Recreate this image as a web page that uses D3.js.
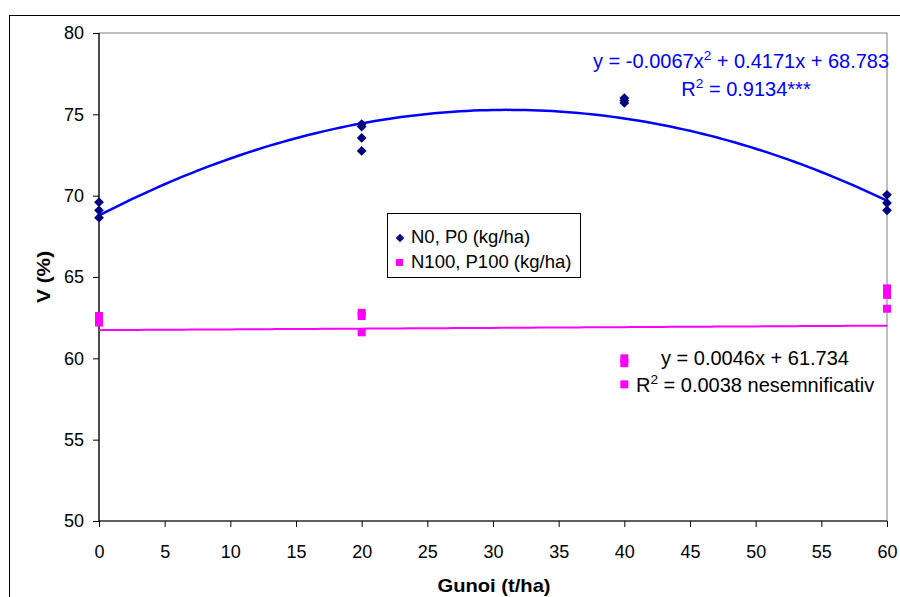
<!DOCTYPE html>
<html>
<head>
<meta charset="utf-8">
<script src="https://cdn.jsdelivr.net/npm/d3@7"></script>
<style>
  html, body { margin: 0; padding: 0; background: #fff; }
  svg { display: block; font-family: "Liberation Sans", Arial, sans-serif; }
</style>
</head>
<body>
<svg id="chart" width="900" height="597"></svg>
<script>
// ---- data ----
const xTicks = [0, 5, 10, 15, 20, 25, 30, 35, 40, 45, 50, 55, 60];
const yTicks = [50, 55, 60, 65, 70, 75, 80];
const seriesNames = ["N0, P0 (kg/ha)", "N100, P100 (kg/ha)"];
const s1x = [0, 0, 0, 20, 20, 20, 20, 40, 40, 40, 60, 60, 60];
const s1y = [69.6, 69.1, 68.65, 74.4, 74.25, 73.55, 72.75, 76.0, 75.85, 75.7, 70.05, 69.55, 69.1];
const s2x = [0, 0, 20, 20, 20, 40, 40, 40, 60, 60, 60];
const s2y = [62.6, 62.2, 62.8, 62.6, 61.6, 60.0, 59.7, 58.4, 64.3, 63.9, 63.05];
const quadCoef = [68.783, 0.4171, -0.0067];   // y = a + b x + c x^2
const linCoef = [61.734, 0.0046];             // y = a + b x

const svg = d3.select("#chart");
const x = d3.scaleLinear().domain([0, 60]).range([99, 887]);
const y = d3.scaleLinear().domain([50, 80]).range([521, 33]);

// outer frame
svg.append("rect").attr("x", 9.5).attr("y", 15.5).attr("width", 1000).attr("height", 1000)
  .attr("fill", "none").attr("stroke", "#000").attr("stroke-width", 1);

// plot area border (grey)
svg.append("rect").attr("x", x(0)).attr("y", y(80)).attr("width", x(60) - x(0)).attr("height", y(50) - y(80))
  .attr("fill", "none").attr("stroke", "#808080").attr("stroke-width", 1);

// axes
const yAxis = d3.axisLeft(y).tickValues(yTicks).tickSize(6).tickPadding(9);
const gy = svg.append("g").attr("transform", `translate(${x(0)},0)`).call(yAxis);
const xAxis = d3.axisBottom(x).tickValues(xTicks).tickSize(6).tickPadding(18);
const gx = svg.append("g").attr("transform", `translate(0,${y(50)})`).call(xAxis);
[gx, gy].forEach(g => {
  g.selectAll("path").attr("stroke", "#000").attr("stroke-width", 1.2);
  g.selectAll("line").attr("stroke", "#000");
  g.selectAll("text").attr("font-size", 18).attr("fill", "#000")
    .attr("font-family", "'Liberation Sans', Arial, sans-serif");
});
gy.select(".domain").attr("d", `M0,${y(50)}V${y(80)}`);
gx.select(".domain").attr("d", `M${x(0)},0H${x(60)}`);

// axis titles
svg.append("text").attr("transform", "translate(494,592) scale(1.12,1)").attr("text-anchor", "middle")
  .attr("font-size", 18).attr("font-weight", "bold").text("Gunoi (t/ha)");
svg.append("text").attr("transform", "translate(50,277) rotate(-90) scale(1.1,1)").attr("text-anchor", "middle")
  .attr("font-size", 19).attr("font-weight", "bold").text("V (%)");

// trendlines
const xs = d3.range(0, 60.01, 0.5);
const quadLine = d3.line().x(d => x(d)).y(d => y(quadCoef[0] + quadCoef[1] * d + quadCoef[2] * d * d));
const linLine = d3.line().x(d => x(d)).y(d => y(linCoef[0] + linCoef[1] * d));
svg.append("path").datum(xs).attr("d", linLine).attr("fill", "none").attr("stroke", "#FF00FF").attr("stroke-width", 2);
svg.append("path").datum(xs).attr("d", quadLine).attr("fill", "none").attr("stroke", "#0000FF").attr("stroke-width", 2.5);

// markers
const squareDiamond = {
  draw(ctx, size) {
    const r = Math.sqrt(size / 2);
    ctx.moveTo(0, -r); ctx.lineTo(r, 0); ctx.lineTo(0, r); ctx.lineTo(-r, 0); ctx.closePath();
  }
};
const diamond = d3.symbol().type(squareDiamond).size(48);
svg.append("g").selectAll("path").data(s1x.map((v, i) => [v, s1y[i]])).join("path")
  .attr("d", diamond).attr("transform", d => `translate(${x(d[0])},${y(d[1])})`)
  .attr("fill", "#000080");
svg.append("g").selectAll("rect").data(s2x.map((v, i) => [v, s2y[i]])).join("rect")
  .attr("x", d => x(d[0]) - 4).attr("y", d => y(d[1]) - 4).attr("width", 8).attr("height", 8)
  .attr("fill", "#FF00FF");

// legend
const lg = svg.append("g");
lg.append("rect").attr("x", 387.5).attr("y", 213.5).attr("width", 193).attr("height", 64)
  .attr("fill", "#fff").attr("stroke", "#000").attr("stroke-width", 1);
lg.append("path").attr("d", d3.symbol().type(squareDiamond).size(36)).attr("transform", "translate(400,238)")
  .attr("fill", "#000080");
lg.append("rect").attr("x", 396).attr("y", 259).attr("width", 7).attr("height", 7).attr("fill", "#FF00FF");
lg.append("text").attr("x", 411).attr("y", 237).attr("dy", "0.35em").attr("font-size", 18.5).text(seriesNames[0]);
lg.append("text").attr("x", 411).attr("y", 262).attr("dy", "0.35em").attr("font-size", 18.5).text(seriesNames[1]);

// equations
function eq(parent, xPos, yPos, anchor, parts, color, fs) {
  const t = parent.append("text").attr("x", xPos).attr("y", yPos).attr("text-anchor", anchor)
    .attr("font-size", fs).attr("fill", color);
  parts.forEach(p => {
    if (p.sup) {
      t.append("tspan").attr("dy", -8).attr("font-size", fs * 0.68).text(p.sup);
      t.append("tspan").attr("dy", 8).text(p.after);
    } else {
      t.append("tspan").text(p.text);
    }
  });
}
eq(svg, 593, 68, "start", [{text: "y = -0.0067x"}, {sup: "2", after: " + 0.4171x + 68.783"}], "#0000FF", 20);
eq(svg, 746, 96, "middle", [{text: "R"}, {sup: "2", after: " = 0.9134***"}], "#0000FF", 20);
eq(svg, 661, 365, "start", [{text: "y = 0.0046x + 61.734"}], "#000", 20);
eq(svg, 636, 392, "start", [{text: "R"}, {sup: "2", after: " = 0.0038 nesemnificativ"}], "#000", 20);
</script>
</body>
</html>
